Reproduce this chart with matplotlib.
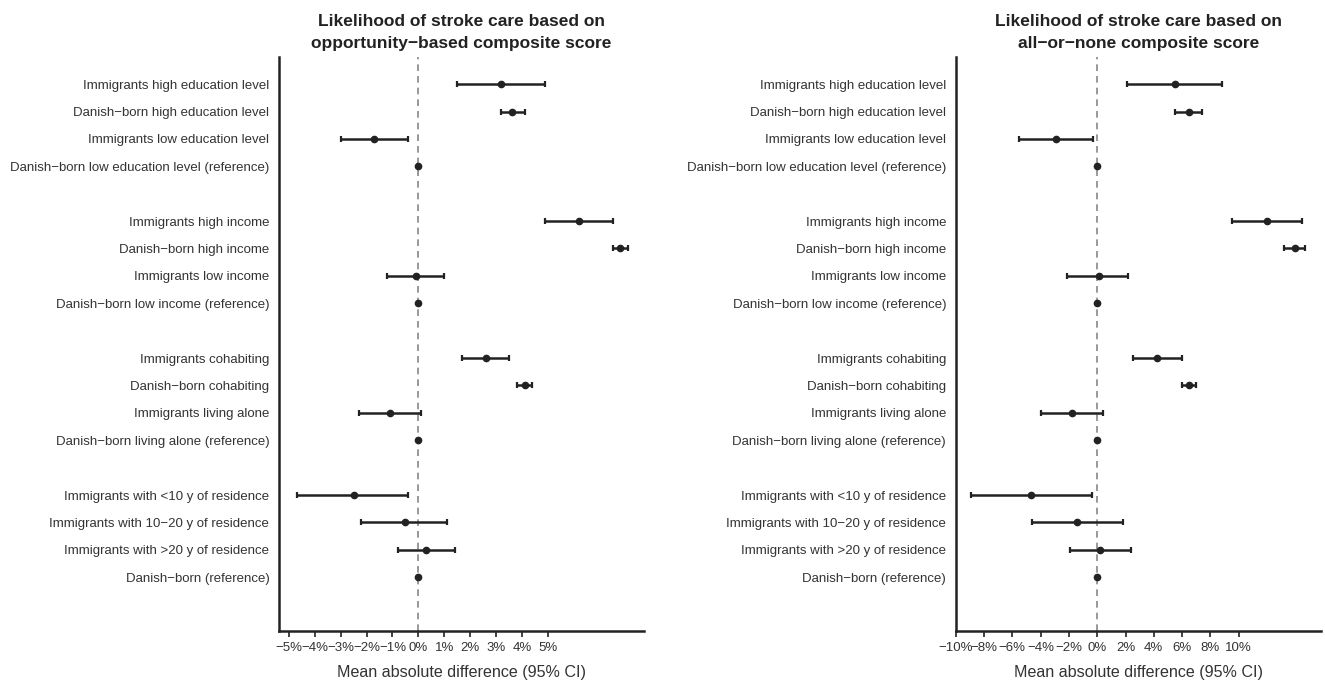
import matplotlib
matplotlib.use('Agg')
import matplotlib.pyplot as plt
import numpy as np

plt.rcParams['font.family'] = ['Liberation Sans', 'DejaVu Sans']

# 行标签（每组4行，组间空一行）
labels = [
    'Immigrants high education level', 'Danish\u2212born high education level',
    'Immigrants low education level', 'Danish\u2212born low education level (reference)',
    'Immigrants high income', 'Danish\u2212born high income',
    'Immigrants low income', 'Danish\u2212born low income (reference)',
    'Immigrants cohabiting', 'Danish\u2212born cohabiting',
    'Immigrants living alone', 'Danish\u2212born living alone (reference)',
    'Immigrants with <10 y of residence', 'Immigrants with 10\u221220 y of residence',
    'Immigrants with >20 y of residence', 'Danish\u2212born (reference)',
]

# 左图: opportunity-based composite score
opp_est = [3.2, 3.6, -1.7, 0, 6.2, 7.8, -0.1, 0, 2.6, 4.1, -1.1, 0, -2.5, -0.5, 0.3, 0]
opp_lo = [1.5, 3.2, -3.0, 0, 4.9, 7.5, -1.2, 0, 1.7, 3.8, -2.3, 0, -4.7, -2.2, -0.8, 0]
opp_hi = [4.9, 4.1, -0.4, 0, 7.5, 8.1, 1.0, 0, 3.5, 4.4, 0.1, 0, -0.4, 1.1, 1.4, 0]

# 右图: all-or-none composite score
aon_est = [5.5, 6.5, -2.9, 0, 12.0, 14.0, 0.1, 0, 4.2, 6.5, -1.8, 0, -4.7, -1.4, 0.2, 0]
aon_lo = [2.1, 5.5, -5.5, 0, 9.5, 13.2, -2.1, 0, 2.5, 6.0, -4.0, 0, -8.9, -4.6, -1.9, 0]
aon_hi = [8.8, 7.4, -0.3, 0, 14.5, 14.7, 2.2, 0, 6.0, 7.0, 0.4, 0, -0.4, 1.8, 2.4, 0]

opp_ticks = [-5, -4, -3, -2, -1, 0, 1, 2, 3, 4, 5]
aon_ticks = [-10, -8, -6, -4, -2, 0, 2, 4, 6, 8, 10]

titles = ['Likelihood of stroke care based on\nopportunity\u2212based composite score',
          'Likelihood of stroke care based on\nall\u2212or\u2212none composite score']

# y 位置：每组4个，组之间留空
ypos = np.array([g * 5 + i for g in range(4) for i in range(4)])

fig = plt.figure(figsize=(13.25, 6.81), dpi=100)
ax1 = fig.add_axes([0.2106, 0.0739, 0.2752, 0.8428])
ax2 = fig.add_axes([0.7213, 0.0739, 0.2755, 0.8428])

panels = [
    (ax1, opp_est, opp_lo, opp_hi, opp_ticks, (-5.38, 8.7)),
    (ax2, aon_est, aon_lo, aon_hi, aon_ticks, (-10.0, 15.8)),
]

for k, (ax, est, lo, hi, ticks, xlim) in enumerate(panels):
    est = np.array(est)
    err = np.array([est - np.array(lo), np.array(hi) - est])
    ax.axvline(0, color='#888888', linestyle=(0, (4, 3)), linewidth=1.2, zorder=1)
    ax.errorbar(est, ypos, xerr=err, fmt='o', color='#222222', ecolor='#222222',
                elinewidth=1.8, capsize=2, capthick=1.6, markersize=4.5, zorder=3)
    ax.set_ylim(19.95, -1.0)
    ax.set_xlim(*xlim)
    ax.set_yticks(ypos)
    ax.set_yticklabels(labels, fontsize=9.5, color='#333333')
    ax.tick_params(axis='y', length=0, pad=7)
    ax.set_xticks(ticks)
    ax.set_xticklabels([f'{t}%'.replace('-', '\u2212') for t in ticks], fontsize=9.5, color='#333333')
    ax.tick_params(axis='x', length=4, width=1.2, color='#222222', pad=4)
    ax.set_xlabel('Mean absolute difference (95% CI)', fontsize=11.6, color='#333333', labelpad=8)
    ax.set_title(titles[k], fontsize=12.5, fontweight='bold', color='#222222', pad=6,
                 linespacing=1.65)
    for s in ['top', 'right']:
        ax.spines[s].set_visible(False)
    for s in ['left', 'bottom']:
        ax.spines[s].set_linewidth(1.8)
        ax.spines[s].set_color('#222222')

fig.savefig('out.png', dpi=100)
